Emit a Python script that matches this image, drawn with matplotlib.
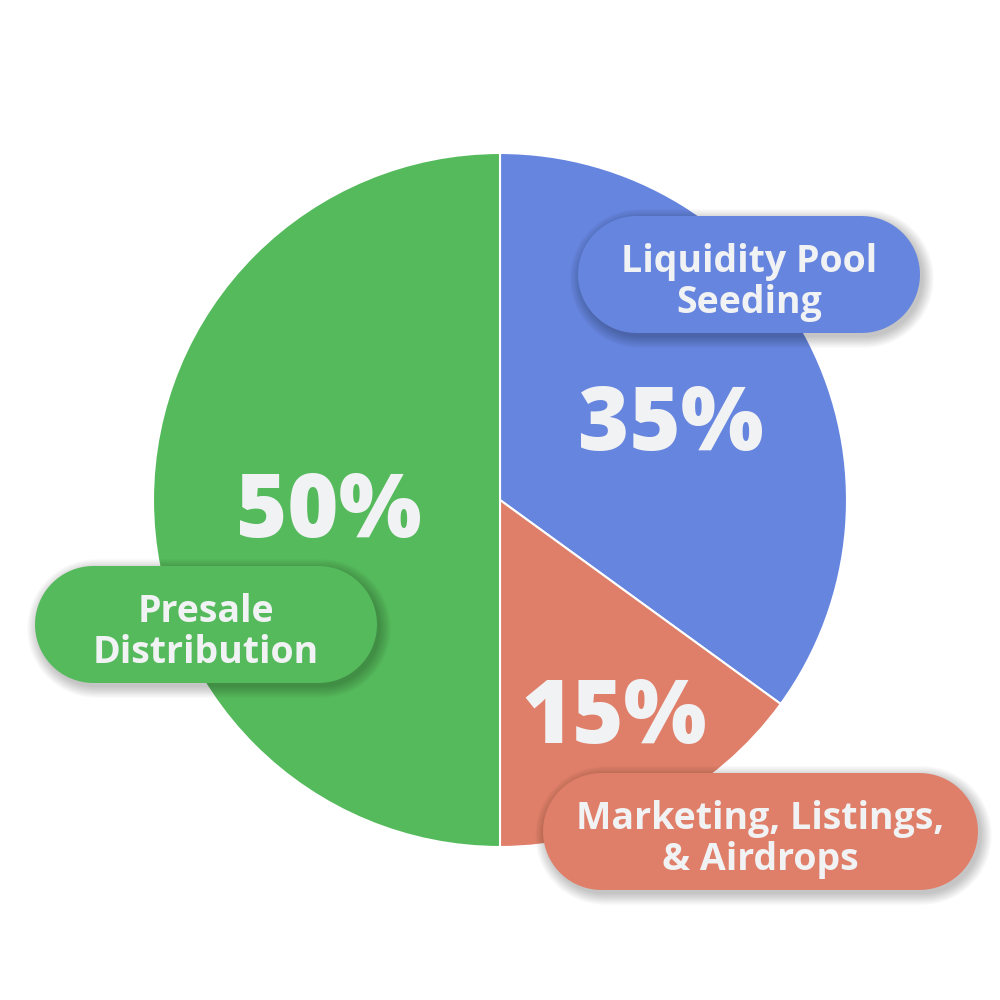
import matplotlib
matplotlib.use("Agg")
import numpy as np
import matplotlib.pyplot as plt
from matplotlib.patches import Polygon

# slice data, clockwise from 12 o'clock
labels = ["Liquidity Pool\nSeeding", "Marketing, Listings,\n& Airdrops", "Presale\nDistribution"]
shares = [35, 15, 50]
colors = ["#6685DE", "#E07F69", "#55BA5C"]
pct_pos = [(671, 427), (614, 720), (329, 514)]          # image px
box_pos = [(578, 216, 342, 117), (543, 773, 435, 117), (35, 566, 342, 117)]  # x, y, w, h

H = 1000
txt_col = "#F1F2F4"
plt.rcParams['font.family'] = ['Open Sans', 'DejaVu Sans']


def pill(x, y, w, h):
    # outline of a stadium shape, lower-left corner at (x, y)
    r = h / 2
    t = np.linspace(-np.pi / 2, np.pi / 2, 40)
    right = np.column_stack([x + w - r + r * np.cos(t), y + r + r * np.sin(t)])
    left = np.column_stack([x + r - r * np.cos(t), y + r - r * np.sin(t)])
    return np.vstack([right, left])


fig = plt.figure(figsize=(10, 10), dpi=100)
ax = fig.add_axes([0, 0, 1, 1])

ax.pie(shares, colors=colors, startangle=90, counterclock=False,
       center=(500, 500), radius=347,
       wedgeprops=dict(edgecolor='white', linewidth=1.5))
ax.set_xlim(0, 1000)
ax.set_ylim(0, 1000)
ax.set_aspect('equal')
ax.axis('off')

for s, (px, py) in zip(shares, pct_pos):
    ax.text(px, H - py, f"{s}%", ha='center', va='center', fontsize=63,
            fontweight='heavy', color=txt_col, zorder=5)

for lab, col, (bx, by, bw, bh) in zip(labels, colors, box_pos):
    y0 = H - by - bh
    # soft drop shadow
    for k in range(10):
        g = k * 1.2
        ax.add_patch(Polygon(pill(bx - g + 3, y0 - g - 4, bw + 2 * g, bh + 2 * g),
                             closed=True, facecolor='black', edgecolor='none',
                             alpha=0.022, zorder=6))
    ax.add_patch(Polygon(pill(bx, y0, bw, bh), closed=True, facecolor=col,
                         edgecolor='none', zorder=7))
    ax.text(bx + bw / 2, y0 + bh / 2 - 8, lab, ha='center', va='center', fontsize=27,
            fontweight='bold', color=txt_col, linespacing=1.13, zorder=8)

fig.savefig("out.png", dpi=100, facecolor='white')
